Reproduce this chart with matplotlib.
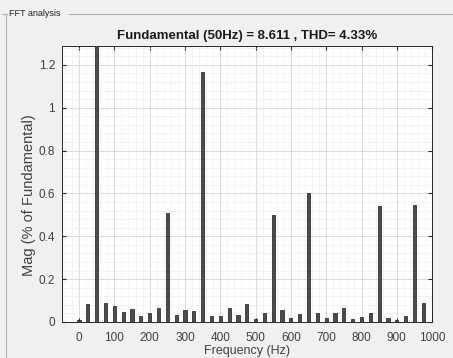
import matplotlib
matplotlib.use("Agg")
import matplotlib.pyplot as plt
from matplotlib.ticker import AutoMinorLocator
from matplotlib.lines import Line2D

plt.rcParams['font.family'] = ['Liberation Sans', 'DejaVu Sans']

# harmonic spectrum, every 25 Hz
freq = [0, 25, 50, 75, 100, 125, 150, 175, 200, 225, 250, 275, 300, 325, 350,
        375, 400, 425, 450, 475, 500, 525, 550, 575, 600, 625, 650, 675, 700,
        725, 750, 775, 800, 825, 850, 875, 900, 925, 950, 975]
mag = [0.011, 0.085, 100.0, 0.090, 0.076, 0.048, 0.062, 0.029, 0.043, 0.064,
       0.507, 0.033, 0.056, 0.053, 1.165, 0.028, 0.028, 0.064, 0.033, 0.085,
       0.012, 0.040, 0.497, 0.056, 0.017, 0.036, 0.600, 0.043, 0.017, 0.040,
       0.064, 0.016, 0.023, 0.043, 0.543, 0.017, 0.009, 0.028, 0.547, 0.090]
xticks = [0, 100, 200, 300, 400, 500, 600, 700, 800, 900, 1000]
yticks = [0, 0.2, 0.4, 0.6, 0.8, 1.0, 1.2]
ytick_labels = ['0', '0.2', '0.4', '0.6', '0.8', '1', '1.2']

fig = plt.figure(figsize=(4.53, 3.58), dpi=100, facecolor='#f0f0f0')
ax = fig.add_axes([0.137, 0.1006, 0.817, 0.771])

ax.bar(freq, mag, width=9, color='#4d4d4d', edgecolor='#1a1a1a', linewidth=0.5, zorder=3)

ax.set_xlim(-48, 1000)
ax.set_ylim(0, 1.288)
ax.set_xticks(xticks)
ax.set_yticks(yticks)
ax.set_yticklabels(ytick_labels)
ax.xaxis.set_minor_locator(AutoMinorLocator(5))
ax.yaxis.set_minor_locator(AutoMinorLocator(5))
ax.grid(which='major', color='#d4d4d4', linewidth=0.6, zorder=0)
ax.grid(which='minor', color='#e0e0e0', linewidth=0.5, linestyle=(0, (1.5, 1.5)), zorder=0)
ax.set_axisbelow(True)
ax.tick_params(which='major', direction='in', length=3, top=True, right=True,
               labelsize=8.5, colors='#262626', labelcolor='#404040')
ax.tick_params(axis='x', which='major', pad=7)
ax.tick_params(axis='y', which='major', pad=5)
ax.tick_params(which='minor', length=0)
for s in ax.spines.values():
    s.set_color('#262626')
    s.set_linewidth(0.7)

ax.set_xlabel('Frequency (Hz)', fontsize=9, color='#404040', labelpad=1)
ax.set_ylabel('Mag (% of Fundamental)', fontsize=10.5, color='#404040')
ax.yaxis.set_label_coords(-0.07, 0.46)
ax.set_title('Fundamental (50Hz) = 8.611 , THD= 4.33%', fontsize=9.5,
             fontweight='bold', color='#1a1a1a', pad=5)

# panel frame
fig.text(0.02, 0.961, 'FFT analysis', fontsize=6.5, color='#222222', va='center')
fig.add_artist(Line2D([0.152, 1.0], [0.961, 0.961], color='#b0b0b0', linewidth=0.8))
fig.add_artist(Line2D([0.004, 0.016], [0.961, 0.961], color='#b0b0b0', linewidth=0.8))
fig.add_artist(Line2D([0.013, 0.013], [0.0, 0.961], color='#b0b0b0', linewidth=0.8))

fig.savefig('out.png', dpi=100, facecolor=fig.get_facecolor())
